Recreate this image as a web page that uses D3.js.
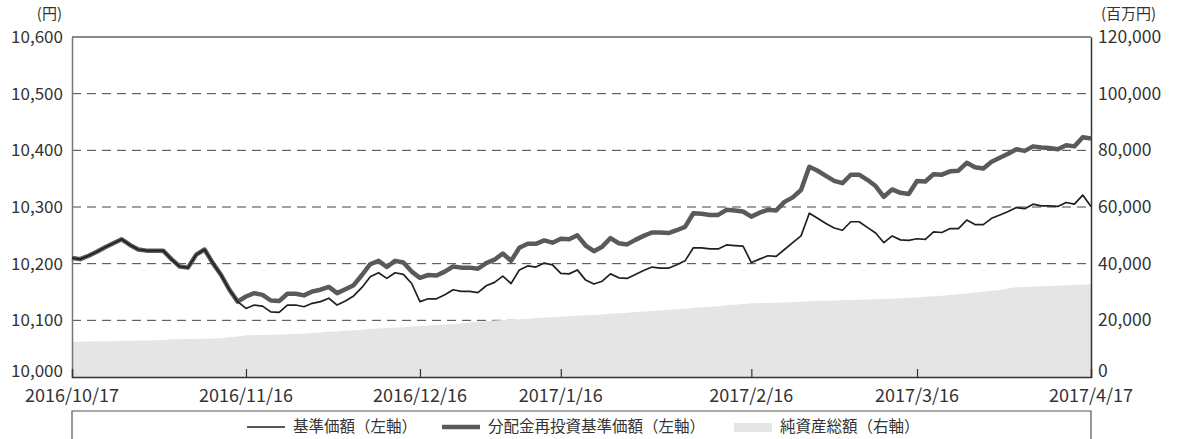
<!DOCTYPE html>
<html>
<head>
<meta charset="utf-8">
<script src="https://cdn.jsdelivr.net/npm/d3@7"></script>
<style>
  body { margin: 0; background: #fff; }
  text { font-family: "Noto Sans CJK JP", "Noto Sans", sans-serif; fill: #333; }
</style>
</head>
<body>
<svg id="chart" width="1178" height="439"></svg>
<script>
// 基準価額 (left axis, yen) - one value per business day, 2016/10/17 .. 2017/4/17
const nav = [
  10210, 10208, 10214, 10221, 10229, 10236, 10243, 10233, 10225, 10223,
  10223, 10223, 10208, 10195, 10193, 10216, 10225, 10201, 10180, 10154,
  10133, 10121, 10127, 10125, 10115, 10114, 10127, 10127, 10124, 10130,
  10133, 10139, 10127, 10134, 10143, 10158, 10177, 10184, 10174, 10184,
  10181, 10165, 10133, 10138, 10138, 10145, 10154, 10151, 10151, 10149,
  10161, 10167, 10178, 10165, 10189, 10196, 10194, 10201, 10198, 10183,
  10182, 10189, 10171, 10164, 10169, 10182, 10175, 10174, 10181, 10188,
  10194, 10192, 10192, 10198, 10205, 10228, 10228, 10226, 10226, 10233,
  10232, 10231, 10202, 10208, 10214, 10213, 10225, 10237, 10249, 10289,
  10280, 10271, 10263, 10259, 10274, 10274, 10264, 10254, 10237, 10249,
  10242, 10241, 10244, 10243, 10256, 10255, 10262, 10262, 10277, 10269,
  10269, 10280, 10286, 10292, 10299, 10297, 10305, 10302, 10302, 10301,
  10308, 10305, 10321, 10301
];

// 分配金再投資基準価額 (left axis, yen)
const reinvested = [
  10210, 10208, 10214, 10221, 10229, 10236, 10243, 10233, 10225, 10223,
  10223, 10223, 10208, 10195, 10193, 10216, 10225, 10201, 10180, 10154,
  10133, 10142, 10148, 10145, 10135, 10134, 10147, 10147, 10144, 10151,
  10154, 10159, 10148, 10155, 10162, 10180, 10199, 10205, 10194, 10205,
  10202, 10186, 10175, 10180, 10179, 10186, 10195, 10193, 10193, 10191,
  10201, 10207, 10218, 10205, 10228, 10235, 10235, 10241, 10237, 10244,
  10243, 10250, 10232, 10222, 10230, 10245, 10236, 10234, 10242, 10249,
  10255, 10255, 10254, 10259, 10265, 10289, 10288, 10286, 10286, 10295,
  10294, 10292, 10283, 10290, 10295, 10294, 10309, 10317, 10330, 10371,
  10364, 10355, 10346, 10342, 10357, 10357, 10348, 10337, 10318, 10331,
  10325, 10323, 10346, 10345, 10358, 10357, 10363, 10364, 10378, 10370,
  10368, 10380, 10387, 10394, 10402, 10399, 10407, 10405, 10404, 10402,
  10409, 10407, 10423, 10421
];

// 純資産総額 (right axis, million yen)
const netAssets = [
  12400, 12450, 12500, 12550, 12600, 12650, 12700, 12800, 12850, 12900,
  12950, 13100, 13300, 13350, 13400, 13450, 13500, 13600, 13700, 14000,
  14300, 14700, 14800, 14850, 14900, 15000, 15100, 15200, 15300, 15500,
  15700, 16000, 16100, 16300, 16500, 16700, 16900, 17100, 17300, 17450,
  17600, 17800, 18000, 18150, 18300, 18500, 18700, 18900, 19200, 19500,
  19700, 19900, 20100, 20200, 20400, 20600, 20800, 20950, 21100, 21300,
  21450, 21600, 21800, 21900, 22100, 22300, 22500, 22700, 22900, 23100,
  23300, 23500, 23700, 23900, 24100, 24400, 24600, 24800, 25000, 25300,
  25500, 25800, 26000, 26100, 26150, 26200, 26300, 26450, 26600, 26700,
  26800, 26900, 27000, 27050, 27150, 27250, 27350, 27450, 27550, 27650,
  27800, 27950, 28100, 28300, 28500, 28700, 28900, 29200, 29500, 29800,
  30100, 30400, 30700, 31300, 31650, 31750, 31900, 32000, 32100, 32200,
  32350, 32450, 32600, 32700
];

const xTickLabels = ['2016/10/17', '2016/11/16', '2016/12/16', '2017/1/16', '2017/2/16', '2017/3/16', '2017/4/17'];
const xTickIndex = [0, 21, 42, 59, 82, 102, 123];
const leftTicks = [10000, 10100, 10200, 10300, 10400, 10500, 10600];
const rightTicks = [0, 20000, 40000, 60000, 80000, 100000, 120000];
const legendLabels = ['基準価額（左軸）', '分配金再投資基準価額（左軸）', '純資産総額（右軸）'];

const plotLeft = 72, plotRight = 1091, plotTop = 37, plotBottom = 377;
const svg = d3.select('#chart');
const fmt = d3.format(',');

const x = d3.scaleLinear().domain([0, nav.length - 1]).range([plotLeft, plotRight]);
const yL = d3.scaleLinear().domain([10000, 10600]).range([plotBottom, plotTop]);
const yR = d3.scaleLinear().domain([0, 120000]).range([plotBottom, plotTop]);

// dashed gridlines
svg.append('g')
  .selectAll('line')
  .data(leftTicks.slice(1, -1))
  .enter()
  .append('line')
    .attr('x1', plotLeft).attr('x2', plotRight)
    .attr('y1', d => yL(d)).attr('y2', d => yL(d))
    .attr('stroke', '#444')
    .attr('stroke-width', 1)
    .attr('stroke-dasharray', '9,6');

// net assets area
svg.append('path')
  .datum(netAssets)
  .attr('fill', '#e5e5e6')
  .attr('d', d3.area()
    .x((d, i) => x(i))
    .y0(plotBottom)
    .y1(d => yR(d)));

// top frame line
svg.append('line')
  .attr('x1', plotLeft).attr('x2', plotRight)
  .attr('y1', plotTop).attr('y2', plotTop)
  .attr('stroke', '#8a8a8a').attr('stroke-width', 2);

// left axis
const gL = svg.append('g')
  .attr('transform', `translate(${plotLeft},0)`)
  .call(d3.axisLeft(yL).tickValues(leftTicks).tickFormat(fmt).tickSize(0).tickPadding(9));
gL.select('.domain').attr('stroke', '#777').attr('stroke-width', 1.5);
gL.selectAll('text').style('font-size', '17px').attr('fill', '#333')
  .attr('dy', d => d === 10000 ? '-0.05em' : '0.32em');

// right axis
const gR = svg.append('g')
  .attr('transform', `translate(${plotRight},0)`)
  .call(d3.axisRight(yR).tickValues(rightTicks).tickFormat(fmt).tickSize(0).tickPadding(7));
gR.select('.domain').attr('stroke', '#333').attr('stroke-width', 1.5);
gR.selectAll('text').style('font-size', '17.5px').attr('fill', '#333')
  .attr('dy', d => d === 0 ? '-0.05em' : '0.32em');

// bottom axis
const gB = svg.append('g')
  .attr('transform', `translate(0,${plotBottom})`)
  .call(d3.axisTop(x).tickValues(xTickIndex).tickSize(8).tickFormat(''));
gB.select('.domain').attr('stroke', '#333').attr('stroke-width', 1.5);
gB.selectAll('.tick line').attr('stroke', '#333').attr('stroke-width', 1.2)
  .style('display', (d, i) => (i === 0 || i === xTickIndex.length - 1) ? 'none' : null);
svg.append('g')
  .selectAll('text')
  .data(xTickIndex)
  .enter()
  .append('text')
    .attr('x', d => x(d))
    .attr('y', 402)
    .attr('text-anchor', 'middle')
    .style('font-size', '18px')
    .text((d, i) => xTickLabels[i]);

// unit labels
svg.append('text').attr('x', 62).attr('y', 19).attr('text-anchor', 'end')
  .style('font-size', '15px').text('(円)');
svg.append('text').attr('x', 1101).attr('y', 19)
  .style('font-size', '15px').text('(百万円)');

// lines
const line = d3.line().x((d, i) => x(i)).y(d => yL(d));
svg.append('path')
  .datum(reinvested)
  .attr('fill', 'none')
  .attr('stroke', '#5a5a5a')
  .attr('stroke-width', 4.5)
  .attr('stroke-linejoin', 'round')
  .attr('d', line);
svg.append('path')
  .datum(nav)
  .attr('fill', 'none')
  .attr('stroke', '#231f20')
  .attr('stroke-width', 1.7)
  .attr('stroke-linejoin', 'round')
  .attr('d', line);

// legend box (open at the bottom edge of the picture)
svg.append('path')
  .attr('d', `M${plotLeft},445 V411 H${plotRight} V445`)
  .attr('fill', 'none')
  .attr('stroke', '#555')
  .attr('stroke-width', 1.2);

const legendX = [247, 442, 734];
const legend = svg.append('g');
legend.append('line')
  .attr('x1', legendX[0]).attr('x2', legendX[0] + 38).attr('y1', 427).attr('y2', 427)
  .attr('stroke', '#231f20').attr('stroke-width', 1.7);
legend.append('line')
  .attr('x1', legendX[1]).attr('x2', legendX[1] + 38).attr('y1', 427).attr('y2', 427)
  .attr('stroke', '#5a5a5a').attr('stroke-width', 4.5);
legend.append('rect')
  .attr('x', legendX[2]).attr('y', 423).attr('width', 38).attr('height', 9)
  .attr('fill', '#e5e5e6');
legend.selectAll('text')
  .data(legendLabels)
  .enter()
  .append('text')
    .attr('x', (d, i) => legendX[i] + 46)
    .attr('y', 432)
    .style('font-size', '15.5px')
    .text(d => d);
</script>
</body>
</html>
